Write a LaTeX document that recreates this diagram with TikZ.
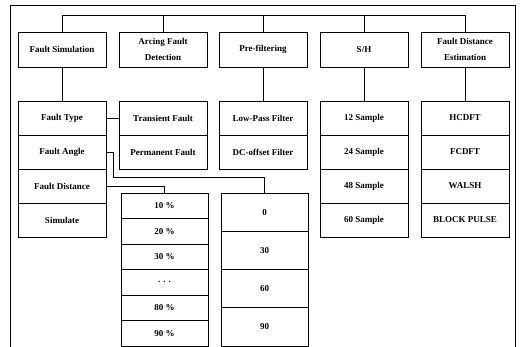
\documentclass[tikz,border=0pt]{standalone}
\usepackage{fontspec}
\setmainfont{Liberation Serif}
\begin{document}
\begin{tikzpicture}[x={(1pt,0pt)},y={(0pt,-1pt)},
  line width=0.8pt,
  every node/.style={font=\fontsize{9}{10}\selectfont\bfseries},
  topbox/.style={draw,minimum width=88pt,minimum height=35pt,align=center,inner sep=1pt,
    font=\fontsize{9}{16}\selectfont\bfseries},
  cell/.style={draw,minimum width=88pt,minimum height=34pt,inner sep=1pt},
  pcell/.style={draw,minimum width=87pt,minimum height=25.5pt,inner sep=1pt},
  acell/.style={draw,minimum width=87pt,minimum height=38.25pt,inner sep=1pt}]
\useasboundingbox (0,0) rectangle (520,347);
\draw (10,350) -- (10,5) -- (515,5) -- (515,350);
% top row
\node[topbox] (fs)  at (62,49.5)  {Fault Simulation};
\node[topbox] (afd) at (163,49.5) {Arcing Fault\\Detection};
\node[topbox] (pf)  at (263,49.5) {Pre-filtering};
\node[topbox] (sh)  at (364,49.5) {S/H};
\node[topbox] (fde) at (465,49.5) {Fault Distance\\Estimation};
\coordinate (bus) at (0,15);
\draw (fs.north) |- (bus -| fde.north) -- (fde.north);
\draw (afd.north) -- (afd.north |- bus);
\draw (pf.north) -- (pf.north |- bus);
\draw (sh.north) -- (sh.north |- bus);
% fault simulation column
\node[cell] (ft) at (62,118) {Fault Type};
\node[cell] (fa) at (62,152) {Fault Angle};
\node[cell] (fd) at (62,186) {Fault Distance};
\node[cell] (sim) at (62,220) {Simulate};
% arcing column
\node[cell] (tf) at (163,118) {Transient Fault};
\node[cell] (pmf) at (163,152) {Permanent Fault};
% prefilter column
\node[cell] (lp) at (263,118) {Low-Pass Filter};
\node[cell] (dc) at (263,152) {DC-offset Filter};
% S/H column
\node[cell] (s12) at (364,118) {12 Sample};
\node[cell] (s24) at (364,152) {24 Sample};
\node[cell] (s48) at (364,186) {48 Sample};
\node[cell] (s60) at (364,220) {60 Sample};
% FDE column
\node[cell] (hc) at (465,118) {HCDFT};
\node[cell] (fc) at (465,152) {FCDFT};
\node[cell] (wa) at (465,186) {WALSH};
\node[cell] (bp) at (465,220) {BLOCK PULSE};
% percent column
\node[pcell] (p10) at (164.5,205.75) {10 \%};
\node[pcell] (p20) at (164.5,231.25) {20 \%};
\node[pcell] (p30) at (164.5,256.75) {30 \%};
\node[pcell] (pdd) at (164.5,282.25) {.\,\,.\,\,.};
\node[pcell] (p80) at (164.5,307.75) {80 \%};
\node[pcell] (p90) at (164.5,333.25) {90 \%};
% angle column
\node[acell] (a0)  at (264.5,212.1) {0};
\node[acell] (a30) at (264.5,250.4) {30};
\node[acell] (a60) at (264.5,288.6) {60};
\node[acell] (a90) at (264.5,326.9) {90};
% connectors
\draw (fs.south) -- (ft.north);
\draw (pf.south) -- (lp.north);
\draw (sh.south) -- (s12.north);
\draw (fde.south) -- (hc.north);
\draw (ft.east) -- (tf.west);
\coordinate (faj) at (113,177);
\draw (fa.east) -| (faj) -| (a0.north);
\draw (fd.east) -| (p10.north);
\end{tikzpicture}
\end{document}
